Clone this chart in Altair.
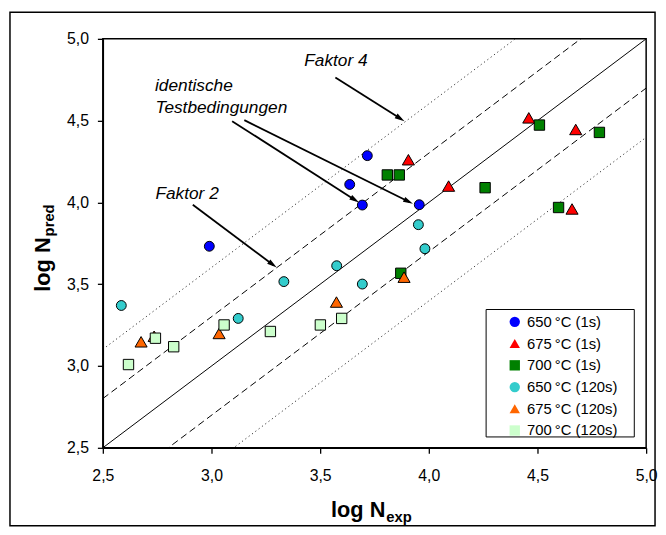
import math
import altair as alt
import pandas as pd

FONT = "Liberation Sans"

# ---------------- data ----------------
series = ["650\u2009°C (1s)", "675\u2009°C (1s)", "700\u2009°C (1s)",
          "650\u2009°C (120s)", "675\u2009°C (120s)", "700\u2009°C (120s)"]
colors = ["#0000FF", "#FF0000", "#008000", "#33CCCC", "#FF6600", "#CCFFCC"]
shapes = ["circle", "triangle-up", "square", "circle", "triangle-up", "square"]
sizes = [100, 150, 110, 100, 150, 110]

x_650_1s = [2.990, 3.636, 3.694, 3.717, 3.956]
y_650_1s = [3.732, 4.110, 3.984, 4.286, 3.986]
x_675_1s = [3.906, 4.091, 4.460, 4.676, 4.659]
y_675_1s = [4.261, 4.100, 4.517, 4.446, 3.960]
x_700_1s = [3.809, 3.864, 3.871, 4.259, 4.509, 4.597, 4.785]
y_700_1s = [4.168, 4.168, 3.567, 4.090, 4.473, 3.969, 4.428]
x_650_120s = [2.585, 3.123, 3.333, 3.576, 3.694, 3.952, 3.982]
y_650_120s = [3.370, 3.291, 3.516, 3.613, 3.501, 3.864, 3.717]
x_675_120s = [2.676, 2.736, 3.035, 3.575, 3.886]
y_675_120s = [3.148, 3.182, 3.199, 3.391, 3.543]
x_700_120s = [2.618, 2.742, 2.826, 3.058, 3.271, 3.501, 3.599]
y_700_120s = [3.009, 3.170, 3.118, 3.251, 3.211, 3.251, 3.291]

ticks = [2.5, 3.0, 3.5, 4.0, 4.5, 5.0]

# reference lines: 1:1, factor 2, factor 4
line_offsets = [0.0, math.log10(2), -math.log10(2), math.log10(4), -math.log10(4)]
line_kind = ["solid", "dashed", "dashed", "dotted", "dotted"]
line_xrange = [2.5, 5.0]

# annotations
ann_text = ["Faktor 4", "identische", "Testbedingungen", "Faktor 2"]
ann_x = [3.427, 2.740, 2.742, 2.742]
ann_y = [4.831, 4.680, 4.547, 4.024]
arrow_x1 = [3.570, 3.095, 3.151, 2.914]
arrow_y1 = [4.764, 4.497, 4.503, 3.986]
arrow_x2 = [3.888, 3.679, 3.927, 3.300]
arrow_y2 = [4.497, 3.999, 3.992, 3.602]

# ---------------- frames ----------------
all_x = [x_650_1s, x_675_1s, x_700_1s, x_650_120s, x_675_120s, x_700_120s]
all_y = [y_650_1s, y_675_1s, y_700_1s, y_650_120s, y_675_120s, y_700_120s]
rows = []
for s, sz, xs, ys in zip(series, sizes, all_x, all_y):
    for xv, yv in zip(xs, ys):
        rows.append({"x": xv, "y": yv, "series": s, "sz": sz})
pts = pd.DataFrame(rows)

lrows = []
for i, (off, kind) in enumerate(zip(line_offsets, line_kind)):
    for xv in line_xrange:
        lrows.append({"lx": xv, "ly": xv + off, "lid": i, "kind": kind})
lines = pd.DataFrame(lrows)

W, H = 550, 414
PXX, PXY = W / 2.5, H / 2.5
arows = []
for x1, y1, x2, y2 in zip(arrow_x1, arrow_y1, arrow_x2, arrow_y2):
    dx = (x2 - x1) * PXX
    dy = -(y2 - y1) * PXY
    L = math.hypot(dx, dy)
    ang = math.degrees(math.atan2(dx, -dy)) % 360
    back = 4.0
    ex = x2 - (dx / L) * back / PXX
    ey = y2 + (dy / L) * back / PXY
    arows.append({"ax1": x1, "ay1": y1, "ax2": ex, "ay2": ey,
                  "tx": x2, "ty": y2, "ang": ang})
arrows = pd.DataFrame(arows)
anns = pd.DataFrame({"t": ann_text, "tx": ann_x, "ty": ann_y})

# ---------------- scales / axes ----------------
label_expr = "replace(format(datum.value, '.1f'), '.', ',')"
xscale = alt.Scale(domain=[2.5, 5.0], nice=False, zero=False)
yscale = alt.Scale(domain=[2.5, 5.0], nice=False, zero=False)


def xaxis():
    return alt.Axis(values=ticks, labelExpr=label_expr, grid=False,
                    domainColor="black", domainWidth=1.5, tickColor="black",
                    tickWidth=1.3, tickSize=5.5, labelFont=FONT,
                    labelFontSize=16, labelColor="black", labelPadding=15,
                    labelFlush=False, labelOverlap=False, title=None, zindex=1)


def yaxis():
    return alt.Axis(values=ticks, labelExpr=label_expr, grid=False,
                    domainColor="black", domainWidth=1.5, tickColor="black",
                    tickWidth=1.3, tickSize=5.5, labelFont=FONT,
                    labelFontSize=16, labelColor="black", labelPadding=9,
                    labelOverlap=False, title=None, zindex=1)


def X(f):
    return alt.X(f, type="quantitative", scale=xscale, axis=xaxis(), title=None)


def Y(f):
    return alt.Y(f, type="quantitative", scale=yscale, axis=yaxis(), title=None)


one = alt.Data(values=[{"a": 1}])

frame = alt.Chart(one).mark_rect(fill="white", fillOpacity=0, stroke="black",
                                 strokeWidth=1.5).encode(
    x=alt.value(-94), x2=alt.value(559), y=alt.value(-27), y2=alt.value(493))

solid = alt.Chart(lines[lines.kind == "solid"]).mark_line(
    color="black", strokeWidth=1, clip=True).encode(
    x=X("lx"), y=Y("ly"), detail="lid:N")
dashed = alt.Chart(lines[lines.kind == "dashed"]).mark_line(
    color="black", strokeWidth=1, strokeDash=[7, 4], clip=True).encode(
    x=X("lx"), y=Y("ly"), detail="lid:N")
dotted = alt.Chart(lines[lines.kind == "dotted"]).mark_line(
    color="#333333", strokeWidth=1, strokeDash=[1.2, 3], clip=True).encode(
    x=X("lx"), y=Y("ly"), detail="lid:N")

arrow_lines = alt.Chart(arrows).mark_rule(color="black", strokeWidth=1.8).encode(
    x=X("ax1"), y=Y("ay1"), x2="ax2", y2="ay2")
arrow_heads = alt.Chart(arrows).mark_point(
    shape="M0,0L0.55,2L-0.55,2Z", filled=True, color="black", opacity=1,
    size=100, strokeWidth=0).encode(
    x=X("tx"), y=Y("ty"), angle=alt.Angle("ang:Q", scale=None))

ann_layer = alt.Chart(anns).mark_text(
    font=FONT, fontSize=17.5, fontStyle="italic", align="left",
    baseline="alphabetic", color="black").encode(
    x=X("tx"), y=Y("ty"), text="t:N")

legend_box = alt.Chart(one).mark_rect(fill="white", stroke="black", strokeWidth=1).encode(
    x=alt.value(388), x2=alt.value(538), y=alt.value(274), y2=alt.value(403))

leg = dict(title=None, orient="none", legendX=409.5, legendY=279, padding=0,
           symbolSize=110, symbolStrokeColor="black", symbolStrokeWidth=1,
           symbolOpacity=1, labelFont=FONT, labelFontSize=15,
           labelColor="black", rowPadding=6.0, labelOffset=5)

points = alt.Chart(pts).mark_point(filled=True, stroke="black", strokeWidth=1,
                                   opacity=1).encode(
    x=X("x"), y=Y("y"),
    color=alt.Color("series:N", scale=alt.Scale(domain=series, range=colors),
                    legend=alt.Legend(**leg)),
    shape=alt.Shape("series:N", scale=alt.Scale(domain=series, range=shapes),
                    legend=alt.Legend(**leg)),
    size=alt.Size("sz:Q", scale=None, legend=None),
)

xt1 = alt.Chart(one).mark_text(text="log N", font=FONT, fontSize=22, fontWeight="bold",
                               align="right", baseline="alphabetic", color="black").encode(
    x=alt.value(286), y=alt.value(484))
xt2 = alt.Chart(one).mark_text(text="exp", font=FONT, fontSize=15, fontWeight="bold",
                               align="left", baseline="alphabetic", color="black").encode(
    x=alt.value(287), y=alt.value(489))
yt1 = alt.Chart(one).mark_text(text="log N", font=FONT, fontSize=22, fontWeight="bold",
                               align="right", baseline="alphabetic", angle=270,
                               color="black").encode(
    x=alt.value(-53), y=alt.value(201))
yt2 = alt.Chart(one).mark_text(text="pred", font=FONT, fontSize=15, fontWeight="bold",
                               align="left", baseline="alphabetic", angle=270,
                               color="black").encode(
    x=alt.value(-49), y=alt.value(200))

chart = alt.layer(
    frame, solid, dashed, dotted, arrow_lines, arrow_heads, ann_layer,
    legend_box, points, xt1, xt2, yt1, yt2
).properties(
    width=W, height=H,
    padding={"left": 96, "top": 28, "right": 12, "bottom": 82},
    autosize=alt.AutoSizeParams(type="none"),
    background="white",
).configure_view(stroke="black", strokeWidth=1.5)

chart.save("out.html", embed_options={"renderer": "svg", "actions": False})
